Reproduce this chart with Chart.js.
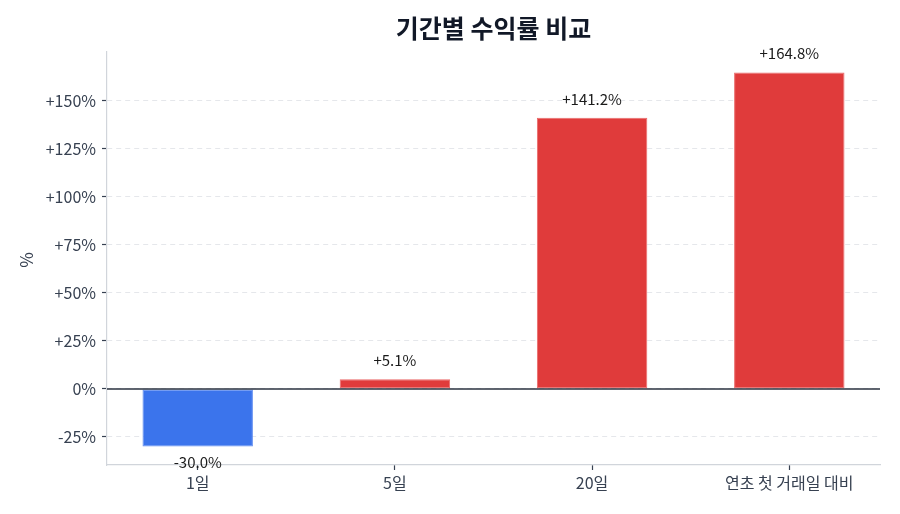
<!DOCTYPE html>
<html>
<head>
<meta charset="utf-8">
<script src="https://cdn.jsdelivr.net/npm/chart.js@4"></script>
<style>
  html, body { margin: 0; padding: 0; background: #fff; }
  #wrap { width: 900px; height: 514px; }
</style>
</head>
<body>
<div id="wrap"><canvas id="chart" width="900" height="514"></canvas></div>
<script>
// Chart data
const categories = ['1일', '5일', '20일', '연초 첫 거래일 대비'];
const returns = [-30.0, 5.1, 141.2, 164.8];
const yTicks = [-25, 0, 25, 50, 75, 100, 125, 150];

const FONT = '"Noto Sans CJK KR", "Noto Sans", sans-serif';
const UP = '#e03b3b';
const DOWN = '#3b74ec';

function fmtPct(v, digits) {
    const s = digits ? v.toFixed(digits) : String(v);
    return (v > 0 ? '+' : '') + s + '%';
}

// Title, y label, zero line and value labels
const decorPlugin = {
    id: 'decor',
    afterDatasetsDraw(chart) {
        const ctx = chart.ctx;
        const area = chart.chartArea;
        const y = chart.scales.y;
        const zero = y.getPixelForValue(0);

        ctx.save();
        ctx.strokeStyle = '#2b3340';
        ctx.lineWidth = 1.5;
        ctx.beginPath();
        ctx.moveTo(area.left, zero);
        ctx.lineTo(area.right, zero);
        ctx.stroke();

        // value labels
        const meta = chart.getDatasetMeta(0);
        ctx.font = '15px ' + FONT;
        ctx.fillStyle = '#1a1a1a';
        ctx.textAlign = 'center';
        ctx.textBaseline = 'middle';
        meta.data.forEach((bar, i) => {
            const v = returns[i];
            const ty = v >= 0 ? bar.y - 19 : bar.y + 16;
            ctx.fillText(fmtPct(v, 1), bar.x, ty);
        });

        // title
        ctx.font = 'bold 25px ' + FONT;
        ctx.fillStyle = '#111827';
        ctx.fillText('기간별 수익률 비교', (area.left + area.right) / 2, 28);

        // y axis label
        ctx.translate(27, 260);
        ctx.rotate(-Math.PI / 2);
        ctx.font = '17px ' + FONT;
        ctx.fillStyle = '#374151';
        ctx.fillText('%', 0, 0);
        ctx.restore();
    }
};

const ctx = document.getElementById('chart').getContext('2d');
const chart = new Chart(ctx, {
    type: 'bar',
    data: {
        datasets: [{
            data: returns.map((v, i) => ({ x: i, y: v })),
            backgroundColor: returns.map(v => v >= 0 ? UP : DOWN),
            borderColor: returns.map(v => v >= 0 ? 'rgba(232,90,90,0.9)' : 'rgba(80,130,240,0.9)'),
            borderWidth: 1,
            borderSkipped: false,
            barPercentage: 0.56,
            categoryPercentage: 1
        }]
    },
    options: {
        responsive: false,
        animation: false,
        maintainAspectRatio: false,
        layout: { padding: { top: 52, right: 20, bottom: 0, left: 0 } },
        plugins: {
            legend: { display: false },
            tooltip: { enabled: false }
        },
        scales: {
            x: {
                type: 'linear',
                offset: false,
                min: -0.46,
                max: 3.46,
                afterBuildTicks: axis => { axis.ticks = categories.map((c, i) => ({ value: i })); },
                afterFit: scale => { scale.height = 49; },
                ticks: {
                    callback: v => categories[v],
                    font: { family: FONT, size: 16 },
                    color: '#374151',
                    padding: 3,
                    maxRotation: 0,
                    autoSkip: false
                },
                grid: {
                    offset: false,
                    drawOnChartArea: false,
                    drawTicks: true,
                    tickLength: 5,
                    tickColor: '#374151',
                    tickWidth: 1.2
                },
                border: { display: true, color: '#d1d5db', width: 1.2 }
            },
            y: {
                min: -39.6,
                max: 175.5,
                afterBuildTicks: axis => { axis.ticks = yTicks.map(v => ({ value: v })); },
                afterFit: scale => { scale.width = 107; },
                ticks: {
                    callback: v => fmtPct(v),
                    font: { family: FONT, size: 16 },
                    color: '#374151',
                    padding: 6
                },
                grid: {
                    color: '#e5e7eb',
                    lineWidth: 1,
                    drawTicks: true,
                    tickLength: 5,
                    tickColor: '#374151',
                    tickWidth: 1.2,
                    tickBorderDash: []
                },
                border: { display: true, color: '#d1d5db', width: 1.2, dash: [5, 4] }
            }
        }
    },
    plugins: [decorPlugin]
});
</script>
</body>
</html>
